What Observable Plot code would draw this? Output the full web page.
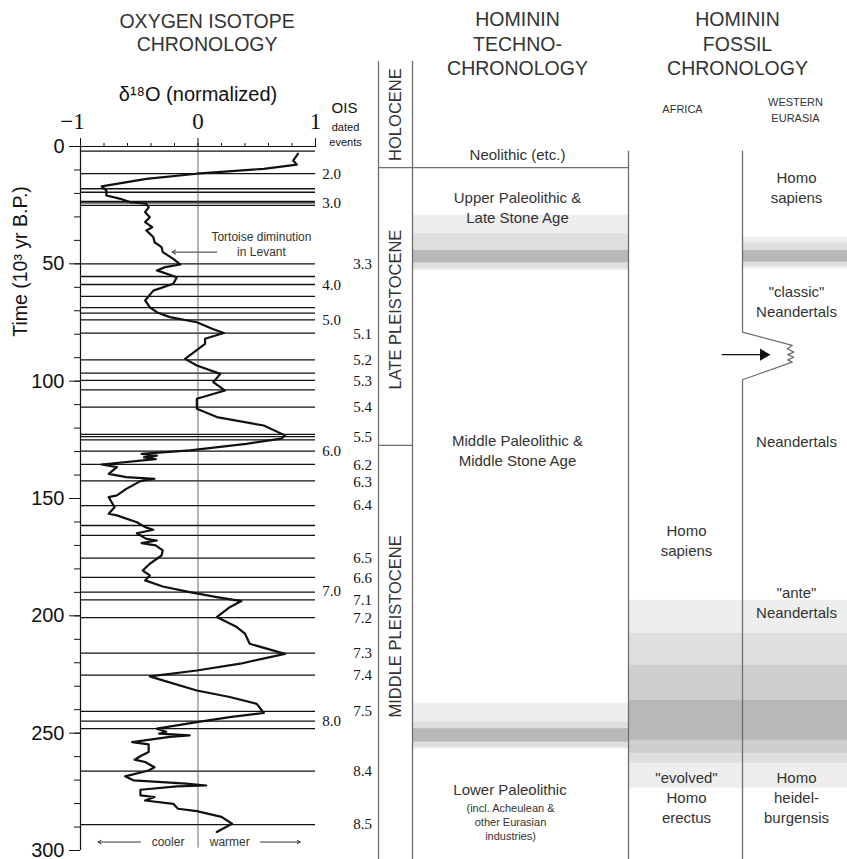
<!DOCTYPE html>
<html><head><meta charset="utf-8">
<script src="https://cdn.jsdelivr.net/npm/d3@7"></script>
<script src="https://cdn.jsdelivr.net/npm/@observablehq/plot@0.6"></script>
<style>
body{margin:0;background:#fff;}
#wrap{display:flex;width:847px;height:859px;overflow:hidden;}
#wrap svg{overflow:visible;}
</style></head><body><div id="wrap"></div>
<script>
// ---------- DATA ----------
// delta-18O curve (time in kyr BP, normalized delta-18O)
const curveTime = [3.1,6,7.7,9.5,11.6,13.8,17,18.7,20.9,22.3,
  23.7,24.4,25.9,28,30.1,32.2,34.4,35.8,38.6,40.8,
  42.9,45,47.9,50.3,51.4,52.8,55.7,58.5,61.4,65.6,
  68.5,70.6,72.7,74.9,77.7,79.5,81.9,84.1,90.5,93.3,
  96.9,100.4,104,107.5,111.8,115.3,118.9,123.1,124.5,126.7,
  129.5,131,131.7,132.5,133.2,135.5,136.6,139.5,140.9,141.6,
  142.6,145.9,148.7,149.4,153.7,156.5,157.2,160.1,162.2,163.3,
  164.8,167.2,167.9,169,170,172.1,174.3,177.8,180.7,182.8,
  184.9,187.5,189.9,192,193.7,196.3,200.5,204.8,207.6,211.9,
  216.2,220.4,223.3,225.8,227.5,231.8,234.6,237.5,241.4,243.2,
  245.3,248.1,249.4,250.2,250.9,251.6,253.8,254.8,258,259.5,
  261.3,262.3,264.5,265.9,268.4,270.1,271.5,272.3,272.7,274.1,
  276.5,277.2,278.7,280.1,282.2,283.2,285.7,288.6,292.1];
const curveD18O = [0.85,0.81,0.84,0.56,-0.01,-0.44,-0.82,-0.78,-0.78,-0.66,
  -0.58,-0.44,-0.42,-0.45,-0.41,-0.45,-0.39,-0.44,-0.38,-0.37,
  -0.31,-0.30,-0.21,-0.15,-0.28,-0.35,-0.18,-0.21,-0.38,-0.45,
  -0.41,-0.35,-0.24,-0.01,0.12,0.22,0.06,0.06,-0.11,-0.01,
  0.19,0.13,0.23,-0.01,-0.01,0.16,0.56,0.74,0.71,0.41,
  -0.07,-0.48,-0.35,-0.46,-0.36,-0.82,-0.69,-0.76,-0.61,-0.37,
  -0.49,-0.61,-0.69,-0.76,-0.71,-0.76,-0.69,-0.52,-0.45,-0.38,
  -0.52,-0.44,-0.35,-0.48,-0.36,-0.30,-0.31,-0.41,-0.47,-0.41,
  -0.45,-0.30,-0.07,0.16,0.37,0.27,0.16,0.33,0.40,0.44,
  0.74,0.36,-0.01,-0.41,-0.30,-0.01,0.27,0.50,0.56,0.27,
  -0.01,-0.35,-0.27,-0.33,-0.07,-0.24,-0.56,-0.42,-0.42,-0.48,
  -0.54,-0.45,-0.37,-0.42,-0.62,-0.55,-0.10,0.07,-0.18,-0.49,
  -0.49,-0.37,-0.45,-0.21,-0.17,-0.01,0.20,0.29,0.16];

// dated events (horizontal lines), kyr BP
const eventTimes = [2.0,11.6,18,19.5,23.4,24,25.1,50,55.4,58.8,63.9,68.7,71,73.9,79.5,
  90.9,96.6,99.7,103.7,111.1,122.7,123.6,125,129.8,135.5,142.5,153,161.5,165.7,175.4,
  183.6,189.9,193.2,200.8,215.9,225.3,240.7,244.9,248.1,266.2,289];

// OIS stage labels
const oisMajorLabels = ["2.0","3.0","4.0","5.0","6.0","7.0","8.0"];
const oisMajorTimes  = [11.6,24,59,74,130,189.5,245];
const oisSubLabels = ["3.3","5.1","5.2","5.3","5.4","5.5","6.2","6.3","6.4","6.5","6.6","7.1","7.2","7.3","7.4","7.5","8.4","8.5"];
const oisSubTimes  = [50,80,91,100,111,124,136,143,153,175.5,184,193.5,201,216,225.5,240.7,266,289];

// axis ticks
const timeTicks = [0,50,100,150,200,250,300];
const d18oTicks = [-1,0,1];

// epochs (kyr BP boundaries)
const epochNames = ["HOLOCENE","LATE PLEISTOCENE","MIDDLE PLEISTOCENE"];
const epochLabelTimes = [-13.6,69.5,204.5];
const holoceneEnd = 9;
const latePleistoceneEnd = 127.4;

// techno-chronology labels
const technoLabels = ["Neolithic (etc.)","Upper Paleolithic &\nLate Stone Age","Middle Paleolithic &\nMiddle Stone Age","Lower Paleolithic"];
const technoLabelTimes = [3.0,25.6,129.1,273.5];
const technoNote = "(incl. Acheulean &\nother Eurasian\nindustries)";
const technoNoteTime = 287.6;

// fossil labels
const africaLabels = ["Homo\nsapiens","\"evolved\"\nHomo\nerectus"];
const africaLabelTimes = [167.4,277.2];
const eurasiaLabels = ["Homo\nsapiens","\"classic\"\nNeandertals","Neandertals","\"ante\"\nNeandertals","Homo\nheidel-\nburgensis"];
const eurasiaLabelTimes = [17,65.6,125.3,193.9,277.2];

// transition uncertainty bands (kyr BP), level 1 = lightest ... 4 = darkest
const bandColumn = ["techno","techno","techno","techno","techno","techno",
  "eurasia","eurasia","eurasia","fossil","fossil","fossil","fossil"];
const bandStart = [29.4,37.2,44.3,237.3,245.3,248.1,38.6,41.2,44.3,193.4,207.5,221.1,236];
const bandEnd   = [52.8,52.1,49.6,256.7,256,253.8,52.1,51.0,49.3,273.4,262.8,258.6,253];
const bandLevel = [1,2,4,1,2,4,1,2,4,1,2,3,4];

// Neandertal replacement event marker time
const replacementTime = 88.7;

// ---------- LAYOUT / STYLE ----------
const H = 859, TOP = 146, BOTTOM_PX = 850;
const kyrPerPx = 300 / (BOTTOM_PX - TOP);
const pxToT = px => (px - TOP) * kyrPerPx;
const sans = "'Liberation Sans', Arial, Helvetica, sans-serif";
const serif = "'Liberation Serif', 'Times New Roman', serif";
const ink = "#111";
const grayInk = "#333";
const lineGray = "#6e6e6e";
const shade = {1:"#eeeeee", 2:"#dfdfdf", 3:"#cfcfcf", 4:"#b8b8b8"};
// right panel columns in page px
const col = {era:[378,412], techno:[412,628], africa:[628,742], eurasia:[742,847], fossil:[628,847]};

const curve = curveTime.map((t,i)=>({t, v: curveD18O[i]}));
const topText = {frameAnchor: "top", lineAnchor: "middle", textAnchor: "middle"};

// ---------- LEFT PANEL ----------
const left = Plot.plot({
  width: 370, height: H,
  marginLeft: 80, marginRight: 55, marginTop: TOP, marginBottom: H - BOTTOM_PX,
  style: {fontFamily: sans, background: "transparent", overflow: "visible"},
  x: {domain: [-1, 1]},
  y: {domain: [0, 300], reverse: true},
  marks: [
    Plot.ruleY(eventTimes, {x1: -1, x2: 1, stroke: ink, strokeWidth: 1.3}),
    Plot.ruleX([0], {y1: 0, y2: 299, stroke: "#444", strokeWidth: 0.8}),
    Plot.ruleX([-1], {y1: 0, y2: 300, stroke: ink, strokeWidth: 1.2}),
    Plot.ruleY([0], {x1: -1, x2: 1, stroke: ink, strokeWidth: 1.2}),
    Plot.line(curve, {x: "v", y: "t", stroke: ink, strokeWidth: 2.2, strokeLinejoin: "round"}),
    // y axis
    Plot.axisY({ticks: timeTicks, tickSize: 11, tickPadding: 5, fontSize: 20, label: null, tickFormat: d => String(d), stroke: ink, fill: ink}),
    Plot.axisY({ticks: d3.range(0, 301, 10), tickSize: 6, label: null, tickFormat: () => "", stroke: ink}),
    // top x axis
    Plot.axisX({anchor: "top", ticks: d18oTicks, tickSize: 9, label: null, tickFormat: () => "", stroke: ink}),
    Plot.axisX({anchor: "top", ticks: d3.range(-10, 11, 2).map(d => d / 10), tickSize: 4, label: null, tickFormat: () => "", stroke: ink}),
    Plot.text(d18oTicks.filter(d => d < 0), {...topText, x: d => d, text: () => "\u22121", dy: -25, dx: -8, fontSize: 23, fontFamily: serif, fill: ink}),
    Plot.text(d18oTicks.filter(d => d >= 0), {...topText, x: d => d, text: d => String(d), dy: -25, fontSize: 23, fontFamily: serif, fill: ink}),
    Plot.text(["\u03B4\u00B9\u2078O (normalized)"], {...topText, x: 0, dy: -52, fontSize: 20, fill: ink}),
    Plot.text(["OIS"], {...topText, x: 1, dx: 29, dy: -38, fontSize: 15, fill: ink}),
    Plot.text(["dated\nevents"], {...topText, x: 1, dx: 30, dy: -13, fontSize: 11, lineHeight: 1.4, fill: ink}),
    // title
    Plot.text(["OXYGEN ISOTOPE\nCHRONOLOGY"], {...topText, x: 0.077, dy: -114, fontSize: 19.5, lineHeight: 1.16, fill: grayInk}),
    // y label
    Plot.text([{t: 49, s: "Time (10\u00B3 yr B.P.)"}], {y: "t", text: "s", frameAnchor: "left", textAnchor: "middle", lineAnchor: "middle", dx: -60, rotate: -90, fontSize: 19.5, fill: ink}),
    // OIS labels
    Plot.text(oisMajorLabels, {x: 1, y: (d, i) => oisMajorTimes[i], text: d => d, dx: 16, fontSize: 15, fontFamily: serif, fill: ink}),
    Plot.text(oisSubLabels, {x: 1, y: (d, i) => oisSubTimes[i], text: d => d, dx: 47, fontSize: 15, fontFamily: serif, fill: ink}),
    // annotations
    Plot.text(["Tortoise diminution\nin Levant"], {x: 0.54, y: () => 41.5, fontSize: 12, lineHeight: 1.25, fill: grayInk}),
    Plot.arrow([0], {x1: 0.16, x2: -0.22, y1: 45, y2: 45, stroke: grayInk, strokeWidth: 1, headLength: 6}),
    Plot.text(["cooler"], {x: -0.255, y: () => 296.4, fontSize: 12, fill: grayInk}),
    Plot.text(["warmer"], {x: 0.27, y: () => 296.4, fontSize: 12, fill: grayInk}),
    Plot.arrow([0], {x1: -0.49, x2: -0.85, y1: 296.4, y2: 296.4, stroke: grayInk, strokeWidth: 1, headLength: 5}),
    Plot.arrow([0], {x1: 0.53, x2: 0.87, y1: 296.4, y2: 296.4, stroke: grayInk, strokeWidth: 1, headLength: 5})
  ]
});

// ---------- RIGHT PANEL ----------
const bands = bandStart.map((s, i) => ({column: bandColumn[i], t1: s, t2: bandEnd[i], level: bandLevel[i]}));
const colTop = pxToT(61), colBottom = pxToT(H);
const fossilTop = 2.0;
const divider = [[742, fossilTop],[742,79.1],[791.7,84.8],[786.7,86.2],[793.3,87.6],[787.3,88.7],[793.3,89.8],[787.3,90.9],[791.7,91.9],[742,99.4],[742,colBottom]];

const right = Plot.plot({
  width: 477, height: H,
  marginLeft: 0, marginRight: 0, marginTop: TOP, marginBottom: H - BOTTOM_PX,
  style: {fontFamily: sans, background: "transparent", overflow: "visible"},
  x: {domain: [370, 847], axis: null},
  y: {domain: [0, 300], reverse: true, axis: null},
  color: {type: "identity"},
  marks: [
    Plot.rect(bands, {x1: d => col[d.column][0], x2: d => col[d.column][1], y1: "t1", y2: "t2", fill: d => shade[d.level]}),
    // era column
    Plot.ruleX([col.era[0], col.era[1]], {y1: colTop, y2: colBottom, stroke: lineGray, strokeWidth: 1.3}),
    Plot.ruleY([holoceneEnd], {x1: col.era[0], x2: col.techno[1], stroke: lineGray, strokeWidth: 1.3}),
    Plot.ruleY([latePleistoceneEnd], {x1: col.era[0], x2: col.era[1], stroke: lineGray, strokeWidth: 1.3}),
    Plot.ruleX([col.techno[1]], {y1: fossilTop, y2: colBottom, stroke: lineGray, strokeWidth: 1.3}),
    Plot.line(divider, {x: d => d[0], y: d => d[1], stroke: lineGray, strokeWidth: 1.3}),
    Plot.ruleY([replacementTime], {x1: 721.7, x2: 762, stroke: ink, strokeWidth: 1.4}),
    Plot.dot([replacementTime], {x: 763, y: d => d, symbol: "triangle", r: 4.5, rotate: 90, fill: ink, stroke: null}),
    // epoch labels
    Plot.text(epochNames, {x: 395.5, y: (d, i) => epochLabelTimes[i], text: d => d, rotate: -90, fontSize: 16.5, fill: grayInk}),
    // titles
    Plot.text(["HOMININ\nTECHNO-\nCHRONOLOGY"], {...topText, x: 517, dy: -103.5, fontSize: 19.5, lineHeight: 1.256, fill: grayInk}),
    Plot.text(["HOMININ\nFOSSIL\nCHRONOLOGY"], {...topText, x: 737, dy: -103.5, fontSize: 19.5, lineHeight: 1.256, fill: grayInk}),
    Plot.text(["AFRICA"], {...topText, x: 682, dy: -37, fontSize: 11, fill: grayInk}),
    Plot.text(["WESTERN\nEURASIA"], {...topText, x: 795, dy: -37.3, fontSize: 11, lineHeight: 1.45, fill: grayInk}),
    // techno labels
    Plot.text(technoLabels, {x: (d, i) => i === 3 ? 509.5 : 517, y: (d, i) => technoLabelTimes[i], text: d => d, fontSize: 15, lineHeight: 1.33, fill: grayInk}),
    Plot.text([technoNote], {x: 510, y: () => technoNoteTime, fontSize: 11, lineHeight: 1.27, fill: grayInk}),
    // fossil labels
    Plot.text(africaLabels, {x: 686, y: (d, i) => africaLabelTimes[i], text: d => d, fontSize: 15, lineHeight: 1.33, fill: grayInk}),
    Plot.text(eurasiaLabels, {x: 796, y: (d, i) => eurasiaLabelTimes[i], text: d => d, fontSize: 15, lineHeight: 1.33, fill: grayInk})
  ]
});

document.getElementById("wrap").append(left, right);
</script>
</body></html>
